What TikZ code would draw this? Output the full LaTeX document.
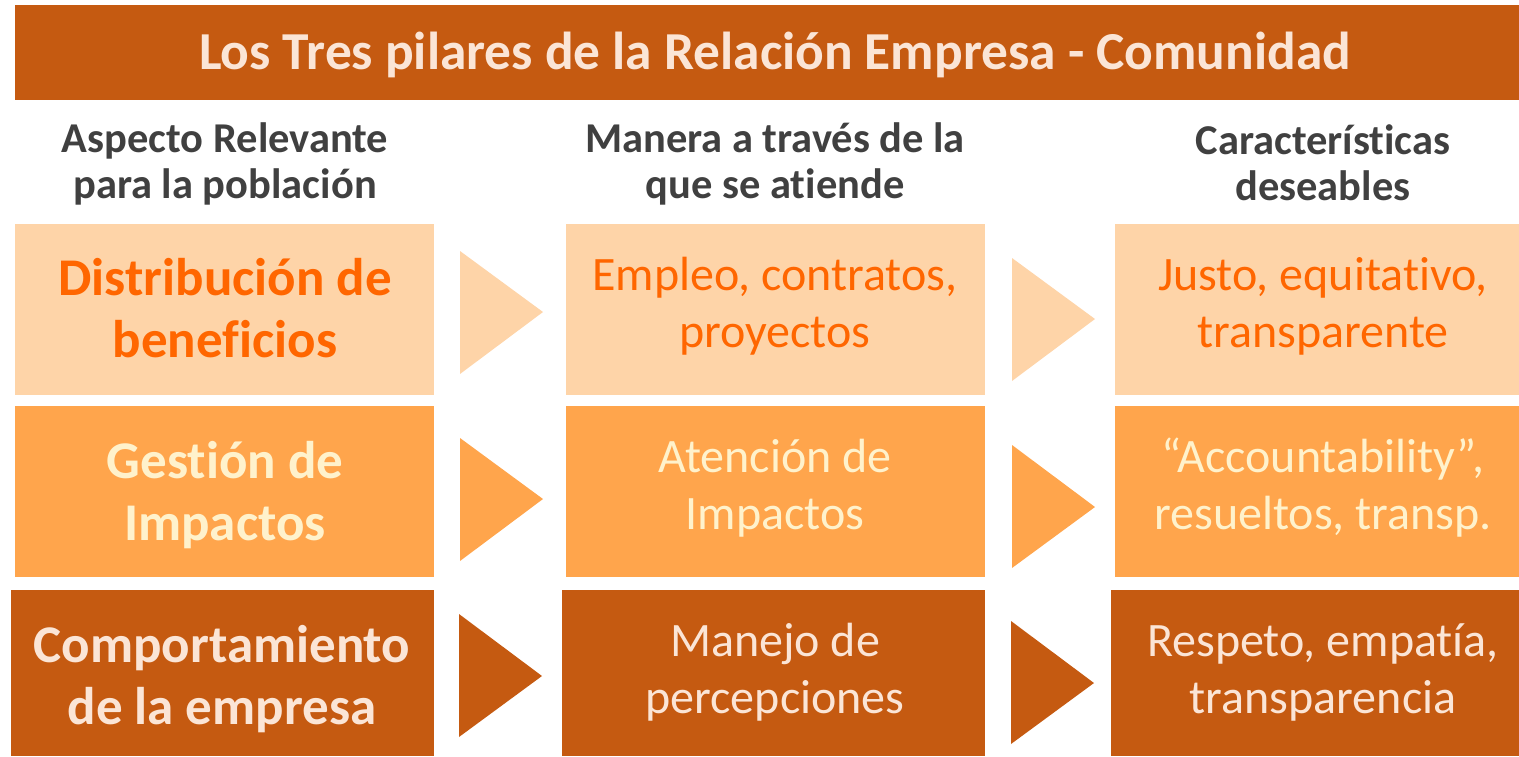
\documentclass[tikz,border=0pt]{standalone}
\usepackage{fontspec}
\setmainfont{Carlito}[Ligatures={NoCommon,NoContextual},Contextuals=NoAlternate]
\definecolor{rust}{HTML}{C55A11}
\definecolor{peach}{HTML}{FED4A8}
\definecolor{mango}{HTML}{FFA54C}
\definecolor{deeporange}{HTML}{FF6600}
\definecolor{cream}{HTML}{FFF2CC}
\definecolor{pale}{HTML}{FBE5D6}
\definecolor{hdrgray}{HTML}{404040}
\tikzset{
  box/.style={inner sep=0pt, outer sep=0pt},
  hdr/.style={text=hdrgray, font=\fontsize{42.5}{46}\selectfont\bfseries, align=center},
  lefttxt/.style={font=\fontsize{53}{62}\selectfont\bfseries, align=center},
  celltxt/.style={font=\fontsize{48}{57}\selectfont, align=center}
}
\begin{document}
\begin{tikzpicture}[x=1pt,y=-1pt]
\useasboundingbox (0,0) rectangle (1519,756);
% title
\fill[rust] (15,5) rectangle (1519,100);
\node[box, text=pale, font=\fontsize{53.4}{60}\selectfont\bfseries] (title) at (775,55) {Los Tres pilares de la Relación Empresa - Comunidad};
% headers
\node[hdr] (h1) at (225,164) {Aspecto Relevante\\para la población};
\node[hdr] (h2) at (775,164) {Manera a través de la\\que se atiende};
\node[hdr] (h3) at (1323,163) {Características\\deseables};
% row 1
\fill[peach] (15,224) rectangle (434,395);
\fill[peach] (566,224) rectangle (985,395);
\fill[peach] (1115,224) rectangle (1519,395);
\fill[peach] (460,251) -- (543,312) -- (460,374) -- cycle;
\fill[peach] (1012,258) -- (1095,319) -- (1012,381) -- cycle;
\node[lefttxt, text=deeporange] (r1a) at (225,308) {Distribución de\\beneficios};
\node[celltxt, text=deeporange] (r1b) at (775,306) {Empleo, contratos,\\proyectos};
\node[celltxt, text=deeporange] (r1c) at (1323,306) {Justo, equitativo,\\transparente};
% row 2
\fill[mango] (15,406) rectangle (434,577);
\fill[mango] (566,406) rectangle (985,577);
\fill[mango] (1115,406) rectangle (1519,577);
\fill[mango] (460,438) -- (543,499) -- (460,561) -- cycle;
\fill[mango] (1012,445) -- (1095,507) -- (1012,568) -- cycle;
\node[lefttxt, text=cream] (r2a) at (225,495) {Gestión de\\Impactos};
\node[celltxt, text=cream] (r2b) at (775,488) {Atención de\\Impactos};
\node[celltxt, text=cream] (r2c) at (1323,488) {“Accountability”,\\resueltos, transp.};
% row 3
\fill[rust] (11,590) rectangle (434,756);
\fill[rust] (562,590) rectangle (985,756);
\fill[rust] (1111,590) rectangle (1519,756);
\fill[rust] (459,614) -- (542,676) -- (459,737) -- cycle;
\fill[rust] (1011,621) -- (1094,683) -- (1011,744) -- cycle;
\node[lefttxt, text=pale] (r3a) at (222,679) {Comportamiento\\de la empresa};
\node[celltxt, text=pale] (r3b) at (775,672) {Manejo de\\percepciones};
\node[celltxt, text=pale] (r3c) at (1323,672) {Respeto, empatía,\\transparencia};
\end{tikzpicture}
\end{document}
